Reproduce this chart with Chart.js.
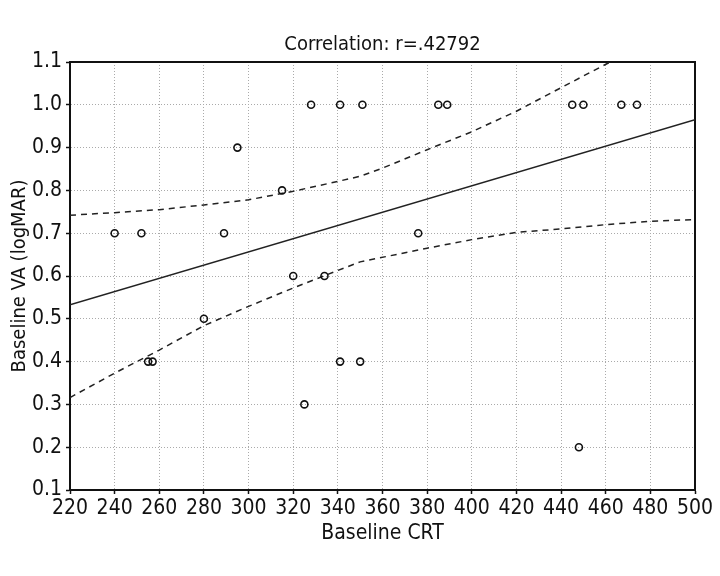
<!DOCTYPE html>
<html>
<head>
<meta charset="utf-8">
<script src="https://cdn.jsdelivr.net/npm/chart.js@4"></script>
<style>
  body { margin: 0; background: #fff; }
  canvas { display: block; }
</style>
</head>
<body>
<canvas id="myChart" width="720" height="576"></canvas>
<script>
// data
const crt = [240, 252, 255, 257, 280, 289, 295, 315, 320, 325, 328, 334, 341, 341, 350, 351, 376, 385, 389, 445, 448, 450, 467, 474];
const va = [0.7, 0.7, 0.4, 0.4, 0.5, 0.7, 0.9, 0.8, 0.6, 0.3, 1.0, 0.6, 1.0, 0.4, 0.4, 1.0, 0.7, 1.0, 1.0, 1.0, 0.2, 1.0, 1.0, 1.0];

const fitX = [220, 500];
const fitY = [0.533, 0.965];

const upperX = [220, 240, 260, 280, 300, 320, 340, 350, 360, 380, 400, 420, 440, 462];
const upperY = [0.742, 0.748, 0.755, 0.766, 0.778, 0.798, 0.821, 0.833, 0.852, 0.895, 0.937, 0.985, 1.04, 1.1];

const lowerX = [220, 240, 260, 280, 300, 320, 340, 350, 380, 400, 420, 440, 460, 480, 500];
const lowerY = [0.316, 0.373, 0.427, 0.484, 0.529, 0.572, 0.613, 0.633, 0.665, 0.685, 0.702, 0.710, 0.720, 0.728, 0.732];

const xTicks = [220, 240, 260, 280, 300, 320, 340, 360, 380, 400, 420, 440, 460, 480, 500];
const yTicks = [0.1, 0.2, 0.3, 0.4, 0.5, 0.6, 0.7, 0.8, 0.9, 1.0, 1.1];

const toPoints = (xs, ys) => xs.map((x, i) => ({ x: x, y: ys[i] }));

const fontFamily = '"Liberation Sans Narrow", "DejaVu Sans Condensed", sans-serif';
Chart.defaults.font.family = fontFamily;
Chart.defaults.color = '#111';

const ctx = document.getElementById('myChart');

new Chart(ctx, {
    type: 'scatter',
    data: {
        datasets: [{
            label: 'points',
            data: toPoints(crt, va),
            pointStyle: 'circle',
            pointRadius: 3.5,
            pointBorderWidth: 1.6,
            borderColor: '#111',
            backgroundColor: 'rgba(255,255,255,0)'
        }, {
            label: 'fit',
            data: toPoints(fitX, fitY),
            showLine: true,
            pointRadius: 0,
            borderColor: '#222',
            borderWidth: 1.5
        }, {
            label: 'upper',
            data: toPoints(upperX, upperY),
            showLine: true,
            pointRadius: 0,
            borderColor: '#222',
            borderWidth: 1.5,
            borderDash: [6, 5]
        }, {
            label: 'lower',
            data: toPoints(lowerX, lowerY),
            showLine: true,
            pointRadius: 0,
            borderColor: '#222',
            borderWidth: 1.5,
            borderDash: [6, 5]
        }]
    },
    options: {
        responsive: false,
        animation: false,
        layout: {
            padding: { left: 0, right: 25, top: 0, bottom: 0 }
        },
        plugins: {
            legend: { display: false },
            tooltip: { enabled: false },
            title: {
                display: true,
                text: 'Correlation: r=.42792',
                fullSize: false,
                color: '#111',
                font: { size: 20, weight: 'normal' },
                padding: { top: 33, bottom: 5 }
            }
        },
        scales: {
            x: {
                type: 'linear',
                min: 220,
                max: 500,
                afterBuildTicks: (scale) => {
                    scale.ticks = xTicks.map(v => ({ value: v }));
                },
                afterFit: (scale) => { scale.height = 86; },
                ticks: {
                    font: { size: 21 },
                    padding: 2,
                    maxRotation: 0,
                    autoSkip: false,
                    callback: (v) => String(v)
                },
                grid: {
                    color: '#aaa',
                    lineWidth: 1,
                    tickLength: 4,
                    tickColor: '#111',
                    tickWidth: 1.5,
                    tickBorderDash: []
                },
                border: { display: true, color: '#111', width: 2, dash: [1, 2] },
                title: {
                    display: true,
                    text: 'Baseline CRT',
                    font: { size: 21 },
                    padding: { top: 0, bottom: 30 }
                }
            },
            y: {
                type: 'linear',
                min: 0.1,
                max: 1.1,
                afterBuildTicks: (scale) => {
                    scale.ticks = yTicks.map(v => ({ value: v }));
                },
                afterFit: (scale) => { scale.width = 70; },
                ticks: {
                    font: { size: 21 },
                    padding: 4,
                    autoSkip: false,
                    callback: (v) => v.toFixed(1)
                },
                grid: {
                    color: '#aaa',
                    lineWidth: 1,
                    tickLength: 4,
                    tickColor: '#111',
                    tickWidth: 1.5,
                    tickBorderDash: []
                },
                border: { display: true, color: '#111', width: 2, dash: [1, 2] },
                title: {
                    display: true,
                    text: 'Baseline VA (logMAR)',
                    font: { size: 20 },
                    padding: { top: 8, bottom: 0 }
                }
            },
            x2: {
                type: 'linear',
                position: 'top',
                min: 220,
                max: 500,
                afterFit: (scale) => { scale.height = 0; },
                ticks: { display: false },
                grid: { drawOnChartArea: false, drawTicks: false },
                border: { display: true, color: '#111', width: 2 }
            },
            y2: {
                type: 'linear',
                position: 'right',
                min: 0.1,
                max: 1.1,
                afterFit: (scale) => { scale.width = 0; },
                ticks: { display: false },
                grid: { drawOnChartArea: false, drawTicks: false },
                border: { display: true, color: '#111', width: 2 }
            }
        }
    }
});
</script>
</body>
</html>
